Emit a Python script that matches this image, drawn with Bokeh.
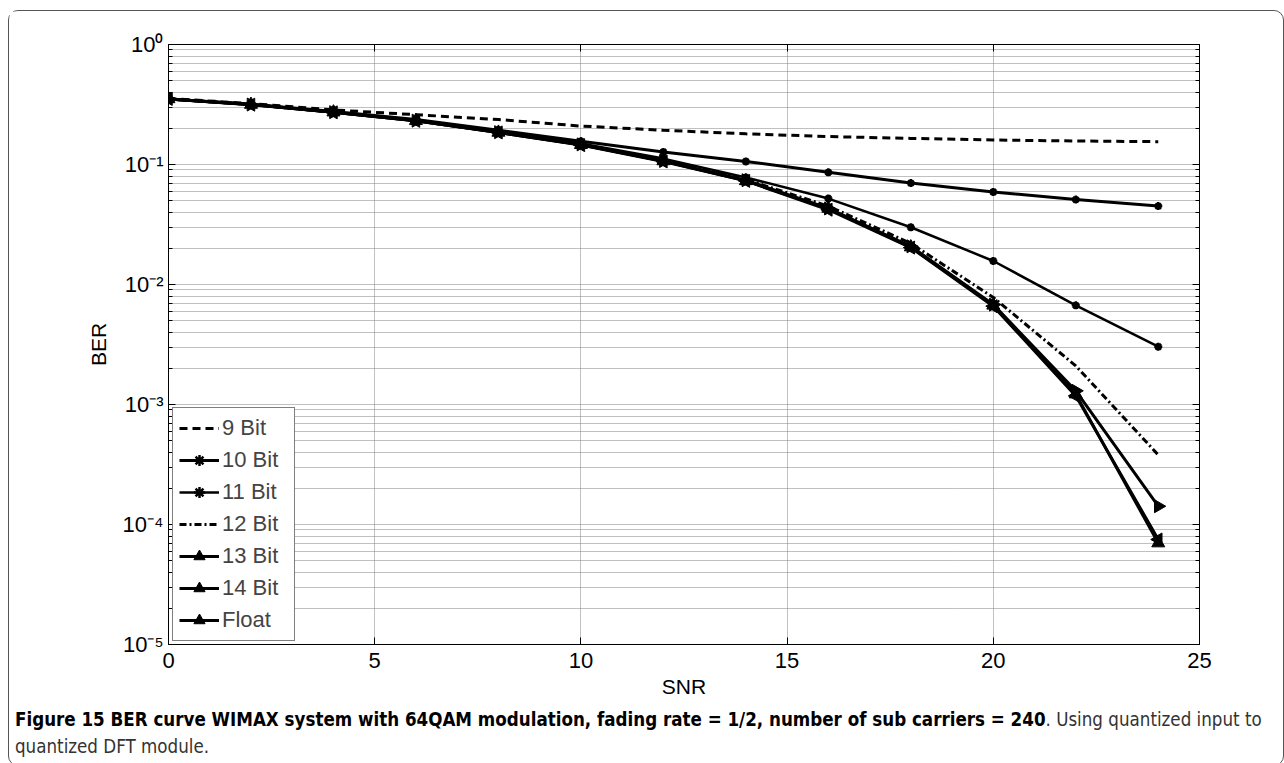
import numpy as np
from bokeh.plotting import figure
from bokeh.models import FixedTicker, LinearAxis, LogAxis, Legend, LegendItem, Div
from bokeh.layouts import column
from bokeh.embed import file_html
from bokeh.resources import INLINE

# ---------------- data ----------------
snr = [0, 2, 4, 6, 8, 10, 12, 14, 16, 18, 20, 22, 24]
ber_9bit = [0.355, 0.322, 0.285, 0.260, 0.237, 0.209, 0.193, 0.180, 0.171, 0.165, 0.160, 0.157, 0.155]
ber_10bit = [0.352, 0.318, 0.277, 0.237, 0.193, 0.156, 0.127, 0.106, 0.086, 0.070, 0.059, 0.051, 0.045]
ber_11bit = [0.352, 0.316, 0.274, 0.234, 0.190, 0.150, 0.112, 0.078, 0.052, 0.030, 0.0157, 0.0067, 0.00303]
ber_12bit = [0.352, 0.316, 0.273, 0.233, 0.187, 0.147, 0.108, 0.075, 0.045, 0.022, 0.0078, 0.0021, 0.00038]
ber_13bit = [0.352, 0.316, 0.273, 0.232, 0.186, 0.147, 0.107, 0.074, 0.043, 0.0208, 0.0068, 0.0013, 0.000142]
ber_14bit = [0.352, 0.316, 0.273, 0.232, 0.185, 0.146, 0.107, 0.073, 0.043, 0.0205, 0.0067, 0.00122, 0.000070]
ber_float = [0.352, 0.315, 0.272, 0.231, 0.185, 0.145, 0.106, 0.073, 0.042, 0.0203, 0.0066, 0.00118, 0.000075]

series_names = ["9 Bit", "10 Bit", "11 Bit", "12 Bit", "13 Bit", "14 Bit", "Float"]

x_tick_values = [0, 5, 10, 15, 20, 25]
y_tick_values = [1e-5, 1e-4, 1e-3, 1e-2, 1e-1, 1.0]
y_tick_labels = ["10\u207b\u2075", "10\u207b\u2074", "10\u207b\u00b3", "10\u207b\u00b2", "10\u207b\u00b9", "10\u2070"]
y_minor_ticks = [m * 10.0 ** k for k in range(-5, 0) for m in range(2, 10)]

x_label = "SNR"
y_label = "BER"
caption_bold = ("Figure 15 BER curve WIMAX system with 64QAM modulation, fading rate = 1/2, "
                "number of sub carriers = 240")
caption_line1_rest = ". Using quantized input to"
caption_line2 = "quantized DFT module."

FONT = "Liberation Sans"

# ---------------- figure ----------------
p = figure(width=1266, height=690, y_axis_type="log",
           x_range=(0, 25), y_range=(1e-5, 1.0),
           output_backend="svg", toolbar_location=None,
           min_border_left=159, min_border_right=76,
           min_border_top=33, min_border_bottom=57)
p.background_fill_color = "white"
p.border_fill_color = "white"
p.outline_line_color = "black"
p.outline_line_width = 1

xt = FixedTicker(ticks=x_tick_values)
yt = FixedTicker(ticks=y_tick_values, minor_ticks=y_minor_ticks)

p.xaxis.ticker = xt
p.yaxis.ticker = yt
p.yaxis.major_label_overrides = {v: l for v, l in zip(y_tick_values, y_tick_labels)}

for ax in (p.xaxis[0], p.yaxis[0]):
    ax.major_tick_in = 7
    ax.major_tick_out = 0
    ax.minor_tick_in = 4
    ax.minor_tick_out = 0
    ax.axis_line_color = "black"
    ax.major_tick_line_color = "black"
    ax.minor_tick_line_color = "black"
    ax.major_label_text_font = FONT
    ax.major_label_text_font_size = "22px"
    ax.major_label_text_color = "black"
    ax.axis_label_text_font = FONT
    ax.axis_label_text_font_size = "21px"
    ax.axis_label_text_font_style = "normal"
    ax.axis_label_text_color = "black"

p.xaxis.minor_tick_line_color = None
p.xaxis.axis_label = x_label
p.xaxis.major_label_standoff = 8
p.xaxis.axis_label_standoff = 4
p.yaxis.axis_label = y_label
p.yaxis.major_label_standoff = 5
p.yaxis.axis_label_standoff = 10

# mirrored axes (box with ticks)
top_ax = LinearAxis(ticker=xt, major_tick_in=7, major_tick_out=0, minor_tick_line_color=None,
                    major_label_text_font_size="0px", axis_line_color="black")
right_ax = LogAxis(ticker=yt, major_tick_in=7, major_tick_out=0, minor_tick_in=4, minor_tick_out=0,
                   major_label_text_font_size="0px", axis_line_color="black")
top_ax.major_label_overrides = {v: "" for v in x_tick_values}
right_ax.major_label_overrides = {v: "" for v in y_tick_values}
p.add_layout(top_ax, "above")
p.add_layout(right_ax, "right")

# grids
p.xgrid.ticker = xt
p.ygrid.ticker = yt
for g in (p.xgrid[0], p.ygrid[0]):
    g.grid_line_color = "#808080"
    g.grid_line_dash = "1 1"
    g.grid_line_width = 1
p.ygrid.minor_grid_line_color = "#808080"
p.ygrid.minor_grid_line_dash = "1 1"
p.ygrid.minor_grid_line_width = 1

# ---------------- series ----------------
items = []

r = p.line(snr, ber_9bit, line_color="black", line_width=3, line_dash="8 5")
items.append(LegendItem(label=series_names[0], renderers=[r]))

r1 = p.line(snr, ber_10bit, line_color="black", line_width=3)
r2 = p.scatter(snr, ber_10bit, marker="asterisk", size=8, line_color="black", line_width=2.5)
items.append(LegendItem(label=series_names[1], renderers=[r1, r2]))

r1 = p.line(snr, ber_11bit, line_color="black", line_width=2.5)
r2 = p.scatter(snr, ber_11bit, marker="asterisk", size=8, line_color="black", line_width=2.5)
items.append(LegendItem(label=series_names[2], renderers=[r1, r2]))

r = p.line(snr, ber_12bit, line_color="black", line_width=3, line_dash="7 3 2 3")
items.append(LegendItem(label=series_names[3], renderers=[r]))

r1 = p.line(snr, ber_13bit, line_color="black", line_width=3)
r2 = p.scatter(snr, ber_13bit, marker="triangle", size=13, angle=-np.pi / 2,
               fill_color="black", line_color="black")
items.append(LegendItem(label=series_names[4], renderers=[r1, r2]))

r1 = p.line(snr, ber_14bit, line_color="black", line_width=3)
r2 = p.scatter(snr, ber_14bit, marker="triangle", size=13,
               fill_color="black", line_color="black")
items.append(LegendItem(label=series_names[5], renderers=[r1, r2]))

r1 = p.line(snr, ber_float, line_color="black", line_width=3)
r2 = p.scatter(snr, ber_float, marker="triangle", size=13, angle=np.pi / 2,
               fill_color="black", line_color="black")
items.append(LegendItem(label=series_names[6], renderers=[r1, r2]))

legend = Legend(items=items, location=(4, 3), margin=0, padding=6, spacing=4,
                glyph_width=40, glyph_height=28, label_height=28, label_width=66,
                label_standoff=3,
                label_text_font=FONT, label_text_font_size="22px",
                border_line_color="black", border_line_width=1,
                background_fill_color="white", background_fill_alpha=1.0)
p.add_layout(legend)

# ---------------- caption ----------------
caption = Div(
    text=(f"<div style='white-space:nowrap'><b style='color:#000'>{caption_bold}</b>"
          f"{caption_line1_rest}</div><div>{caption_line2}</div>"),
    width=1264,
    styles={"font-family": "'Liberation Sans Narrow', 'DejaVu Sans Condensed', 'Liberation Sans', sans-serif",
            "font-size": "18.6px", "line-height": "27px", "color": "#333",
            "padding-left": "1px"},
)

layout = column(p, caption, margin=(10, 0, 0, 8),
                styles={"border": "1px solid #555", "border-radius": "10px",
                        "background-color": "white"})

open("out.html", "w").write(file_html(layout, INLINE))
